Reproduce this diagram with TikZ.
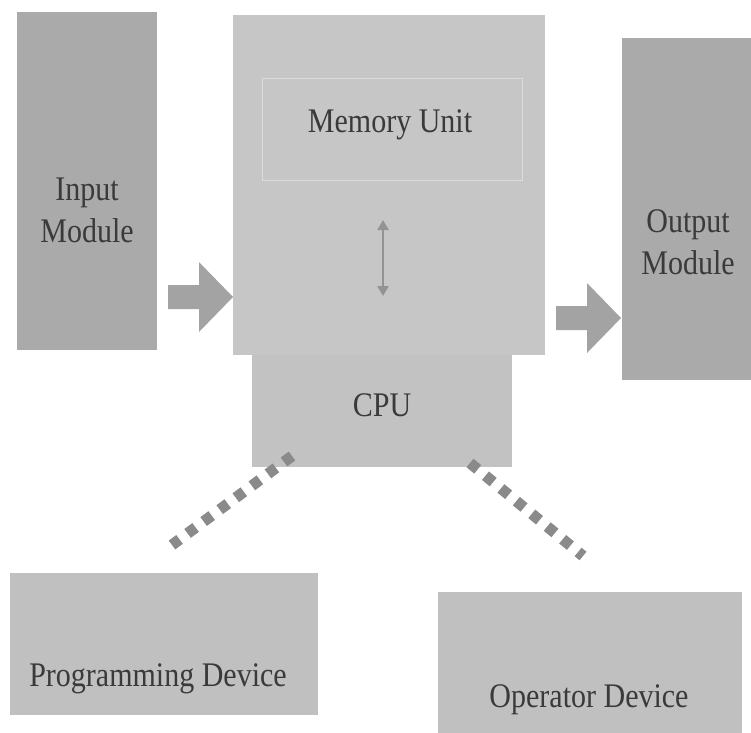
\documentclass[tikz,border=0pt]{standalone}
\usepackage{fontspec}
\setmainfont{Liberation Serif}
\usetikzlibrary{arrows.meta}
\definecolor{darkbox}{HTML}{AAAAAA}
\definecolor{mainbox}{HTML}{C6C6C6}
\definecolor{cpubox}{HTML}{C2C2C2}
\definecolor{devbox}{HTML}{C0C0C0}
\definecolor{arrowfill}{HTML}{A3A3A3}
\definecolor{dotcol}{HTML}{8A8A8A}
\definecolor{txt}{HTML}{3A3A3A}
\definecolor{innerline}{HTML}{DCDCDC}
\newcommand\tall[1]{\scalebox{1}[1.15]{#1}}
\begin{document}
\begin{tikzpicture}[x=1pt,y=-1pt,
  box/.style={draw=none, inner sep=0pt, anchor=north west},
  lbl/.style={font=\fontsize{30}{42}\selectfont, text=txt, align=center, inner sep=0pt},
  blockarrow/.style={fill=arrowfill, draw=none},
  dots/.style={draw=dotcol, line width=11pt, dash pattern=on 10pt off 10pt},
]
\useasboundingbox (0,0) rectangle (751,732);
% boxes
\node[box, fill=darkbox, minimum width=140pt, minimum height=338pt] (in) at (17,12) {};
\node[box, fill=darkbox, minimum width=131pt, minimum height=342pt] (out) at (622,38) {};
\node[box, fill=cpubox, minimum width=260pt, minimum height=115pt] (cpu) at (252,352) {};
\node[box, fill=mainbox, minimum width=312pt, minimum height=340pt] (main) at (233,15) {};
\node[box, draw=innerline, line width=1.2pt, minimum width=260pt, minimum height=102pt] (mem) at (262,78) {};
\node[box, fill=devbox, minimum width=308pt, minimum height=142pt] (prog) at (10,573) {};
\node[box, fill=devbox, minimum width=304pt, minimum height=142pt] (oper) at (438,592) {};
% labels
\node[lbl] (intxt) at (87,210) {\tall{Input}\\\tall{Module}};
\node[lbl] (outtxt) at (688,242) {\tall{Output}\\\tall{Module}};
\node[lbl] (memtxt) at (390,125) {\tall{Memory Unit}};
\node[lbl] (cputxt) at (382,405) {\tall{CPU}};
\node[lbl] (progtxt) at (158,679) {\tall{Programming Device}};
\node[lbl] (opertxt) at (589,700) {\tall{Operator Device}};
% memory <-> cpu double arrow
\coordinate (da1) at (383,220);
\coordinate (da2) at (383,296);
\draw[draw=arrowfill!90!black, line width=2.6pt, {Triangle[length=10pt,width=11pt]}-{Triangle[length=10pt,width=11pt]}] (da1) -- (da2);
% block arrows
\fill[blockarrow] (168,285) -- (199,285) -- (199,262) -- (233,297) -- (199,332) -- (199,309) -- (168,309) -- cycle;
\fill[blockarrow] (556,306) -- (587,306) -- (587,283) -- (621,318) -- (587,353) -- (587,330) -- (556,330) -- cycle;
% dotted connectors
\coordinate (p1) at (292,456);
\coordinate (p2) at (172,545);
\coordinate (o1) at (470,463);
\coordinate (o2) at (583,556);
\draw[dots] (p1) -- (p2);
\draw[dots] (o1) -- (o2);
\end{tikzpicture}
\end{document}
